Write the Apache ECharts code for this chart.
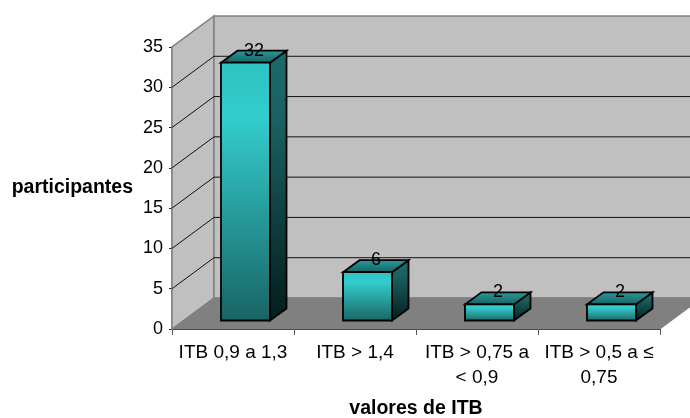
<!DOCTYPE html>
<html>
<head>
<meta charset="utf-8">
<style>html,body{margin:0;padding:0;background:#fff}#c{width:690px;height:418px}</style>
<script src="https://cdn.jsdelivr.net/npm/echarts@6/dist/echarts.min.js"></script>
</head>
<body>
<div id="c"></div>
<script>
var categories = ['ITB 0,9 a 1,3', 'ITB > 1,4', 'ITB > 0,75 a\n< 0,9', 'ITB > 0,5 a ≤\n0,75'];
var participantes = [32, 6, 2, 2];
var gridValues = [5, 10, 15, 20, 25, 30, 35];
var yAxisTitle = 'participantes';
var xAxisTitle = 'valores de ITB';

var DX = 42, DY = 31;          // depth of the 3D box
var BDX = 16.5, BDY = 12;      // depth of a bar
var SHIFT_X = 12.5, SHIFT_Y = 8.5, BAR_W = 49;
var FONT = '"Liberation Sans", Arial, sans-serif';

function grad(stops) {
  return { type: 'linear', x: 0, y: 0, x2: 0, y2: 1, global: false,
    colorStops: stops.map(function (s) { return { offset: s[0], color: s[1] }; }) };
}
function poly(points, style, z2) {
  return { type: 'polygon', z2: z2 || 0, shape: { points: points }, style: style };
}

function renderWalls(params, api) {
  var band = api.size([1, 0])[0];
  var z = api.coord([0, 0]), t = api.coord([0, 35]);
  var L = z[0] - band / 2, R = L + band * categories.length;
  var y0 = z[1], y1 = t[1];
  var wall = { fill: '#C0C0C0', stroke: '#808080', lineWidth: 1.5 };
  return { type: 'group', children: [
    poly([[L, y0], [L + DX, y0 - DY], [L + DX, y1 - DY], [L, y1]], wall),
    poly([[L + DX, y0 - DY], [R + DX, y0 - DY], [R + DX, y1 - DY], [L + DX, y1 - DY]], wall),
    poly([[L, y0], [L + DX, y0 - DY], [R + DX, y0 - DY], [R, y0]], { fill: '#808080', stroke: '#808080', lineWidth: 1 }, 1)
  ] };
}

function renderGrid(params, api) {
  var band = api.size([1, 0])[0];
  var v = api.value(0);
  var p = api.coord([0, v]);
  var L = p[0] - band / 2, R = L + band * categories.length;
  if (v === 35) return { type: 'group', children: [] };
  return { type: 'polyline', shape: { points: [[L, p[1]], [L + DX, p[1] - DY], [R + DX, p[1] - DY]] },
    style: { fill: null, stroke: '#111', lineWidth: 1 } };
}

function renderBar(params, api) {
  var idx = api.value(0), v = api.value(1);
  var base = api.coord([idx, 0]), top = api.coord([idx, v]);
  var x0 = base[0] + SHIFT_X - BAR_W / 2, x1 = x0 + BAR_W;
  var yb = base[1] - SHIFT_Y, yt = top[1] - SHIFT_Y;
  var line = { stroke: '#000', lineWidth: 1.8, lineJoin: 'miter' };
  function st(fill) { return Object.assign({ fill: fill }, line); }
  return { type: 'group', children: [
    poly([[x1, yt], [x1 + BDX, yt - BDY], [x1 + BDX, yb - BDY], [x1, yb]],
      st(grad([[0, '#1B6A6A'], [0.25, '#1A6262'], [1, '#041C1C']]))),
    poly([[x0, yt], [x0 + BDX, yt - BDY], [x1 + BDX, yt - BDY], [x1, yt]],
      st(grad([[0, '#2A9C9C'], [1, '#176060']]))),
    poly([[x0, yb], [x0, yt], [x1, yt], [x1, yb]],
      st(grad([[0, '#2FC2C2'], [0.22, '#33CCCC'], [1, '#196464']]))),
    { type: 'text', z2: 10, x: (x0 + x1) / 2 + 8.5, y: yt - 12,
      style: { text: String(v), fill: '#000', font: '18px ' + FONT, align: 'center', verticalAlign: 'middle' } }
  ] };
}

var chart = echarts.init(document.getElementById('c'), null, { renderer: 'canvas' });
chart.setOption({
  animation: false,
  backgroundColor: '#fff',
  grid: { left: 172, top: 47, width: 488, height: 282, containLabel: false, outerBoundsMode: 'none' },
  xAxis: {
    type: 'category',
    data: categories,
    name: xAxisTitle,
    nameLocation: 'middle',
    nameGap: 70,
    nameTextStyle: { fontFamily: FONT, fontSize: 19.5, fontWeight: 'bold', color: '#000' },
    axisLine: { show: true, lineStyle: { color: '#111', width: 1 } },
    axisTick: { show: true, alignWithLabel: false, length: 6, lineStyle: { color: '#555' } },
    axisLabel: { interval: 0, margin: 11, lineHeight: 25,
      fontFamily: FONT, fontSize: 19, color: '#000', hideOverlap: false }
  },
  yAxis: {
    type: 'value',
    min: 0, max: 35, interval: 5,
    name: yAxisTitle,
    nameLocation: 'middle',
    nameRotate: 0,
    nameGap: 39,
    nameTextStyle: { fontFamily: FONT, fontSize: 19.5, fontWeight: 'bold', color: '#000' },
    splitLine: { show: false },
    axisLine: { show: true, lineStyle: { color: '#808080', width: 1.5 } },
    axisTick: { show: true, length: 3, lineStyle: { color: '#222' } },
    axisLabel: { margin: 9, fontFamily: FONT, fontSize: 18, color: '#000' }
  },
  series: [
    { type: 'custom', z: 1, silent: true, data: [[0]], renderItem: renderWalls, encode: { x: -1, y: -1 } },
    { type: 'custom', z: 2, silent: true, data: gridValues.map(function (v) { return [v]; }),
      renderItem: renderGrid, encode: { y: 0 } },
    { type: 'custom', z: 3, data: participantes.map(function (v, i) { return [i, v]; }),
      renderItem: renderBar, encode: { x: 0, y: 1 } }
  ]
});
</script>
</body>
</html>
